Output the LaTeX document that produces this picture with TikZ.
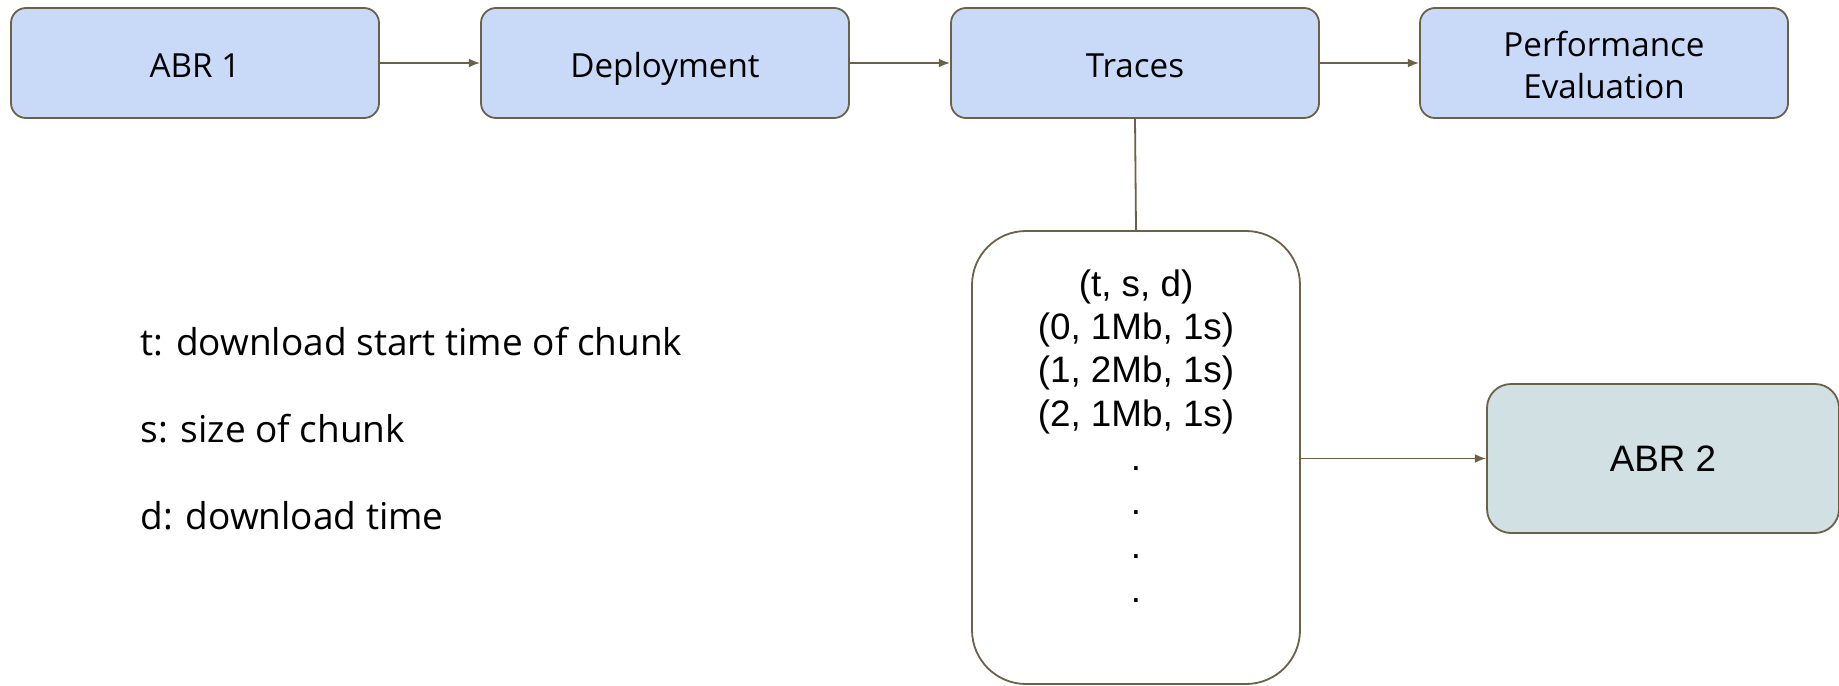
\documentclass[tikz,border=0pt]{standalone}
\usepackage{fontspec}
\setmainfont{Open Sans}
\newfontfamily\arialf{Liberation Sans}
\usetikzlibrary{arrows.meta}
\definecolor{boxblue}{HTML}{C9DAF8}
\definecolor{boxcyan}{HTML}{D0E0E3}
\definecolor{edgec}{HTML}{6B6148}
\begin{document}
\begin{tikzpicture}[x=0.5pt,y=-0.5pt,
  boxshape/.style={draw=edgec,line width=0.9pt,fill=boxblue,rounded corners=7.5pt,
    minimum width=184pt,minimum height=55pt,inner sep=0pt,align=center,
    font=\fontsize{16.6}{21}\selectfont},
  topbox/.style={boxshape,text height=14.7pt,text depth=0pt},
  arr/.style={draw=edgec,line width=0.9pt,-{Latex[length=5.6pt,width=4.4pt]}},
  conn/.style={draw=edgec,line width=0.9pt},
  trtext/.style={inner sep=0pt,font=\arialf\fontsize{18.4}{22}\selectfont},
  legend/.style={inner sep=0pt,anchor=west,font=\fontsize{18.5}{22}\selectfont}]
\useasboundingbox (0,0) rectangle (1839,685);
\node[topbox] (abr1) at (195,63) {ABR 1};
\node[topbox] (dep) at (665,63) {Deployment};
\node[topbox] (tr) at (1135,63) {Traces};
\node[boxshape] (perf) at (1604,63) {\rule{0pt}{15pt}Performance\\Evaluation};
\draw[arr] (abr1) -- (dep);
\draw[arr] (dep) -- (tr);
\draw[arr] (tr) -- (perf);
\node[draw=edgec,line width=0.9pt,fill=white,rounded corners=27pt,
  minimum width=164pt,minimum height=226.5pt,inner sep=0pt] (tbox) at (1136,457.5) {};
\draw[conn] (tr.south) -- (tbox.north);
\node[draw=edgec,line width=0.9pt,fill=boxcyan,rounded corners=12pt,
  minimum width=176pt,minimum height=74.5pt,inner sep=0pt,
  font=\arialf\fontsize{18.4}{22}\selectfont] (abr2) at (1663,458.5) {ABR 2};
\draw[arr] (tbox.east |- abr2.west) -- (abr2.west);
\node[trtext] (l0) at (1136,287) {(t, s, d)};
\node[trtext] (l1) at (1136,330) {(0, 1Mb, 1s)};
\node[trtext] (l2) at (1136,373) {(1, 2Mb, 1s)};
\node[trtext] (l3) at (1136,417) {(2, 1Mb, 1s)};
\node[trtext] (d1) at (1136,469) {.};
\node[trtext] (d2) at (1136,513) {.};
\node[trtext] (d3) at (1136,557) {.};
\node[trtext] (d4) at (1136,601) {.};
\node[legend] (lt) at (140,342) {t: download start time of chunk};
\node[legend] (ls) at (140,429) {s: size of chunk};
\node[legend] (ld) at (140,516) {d: download time};
\end{tikzpicture}
\end{document}
